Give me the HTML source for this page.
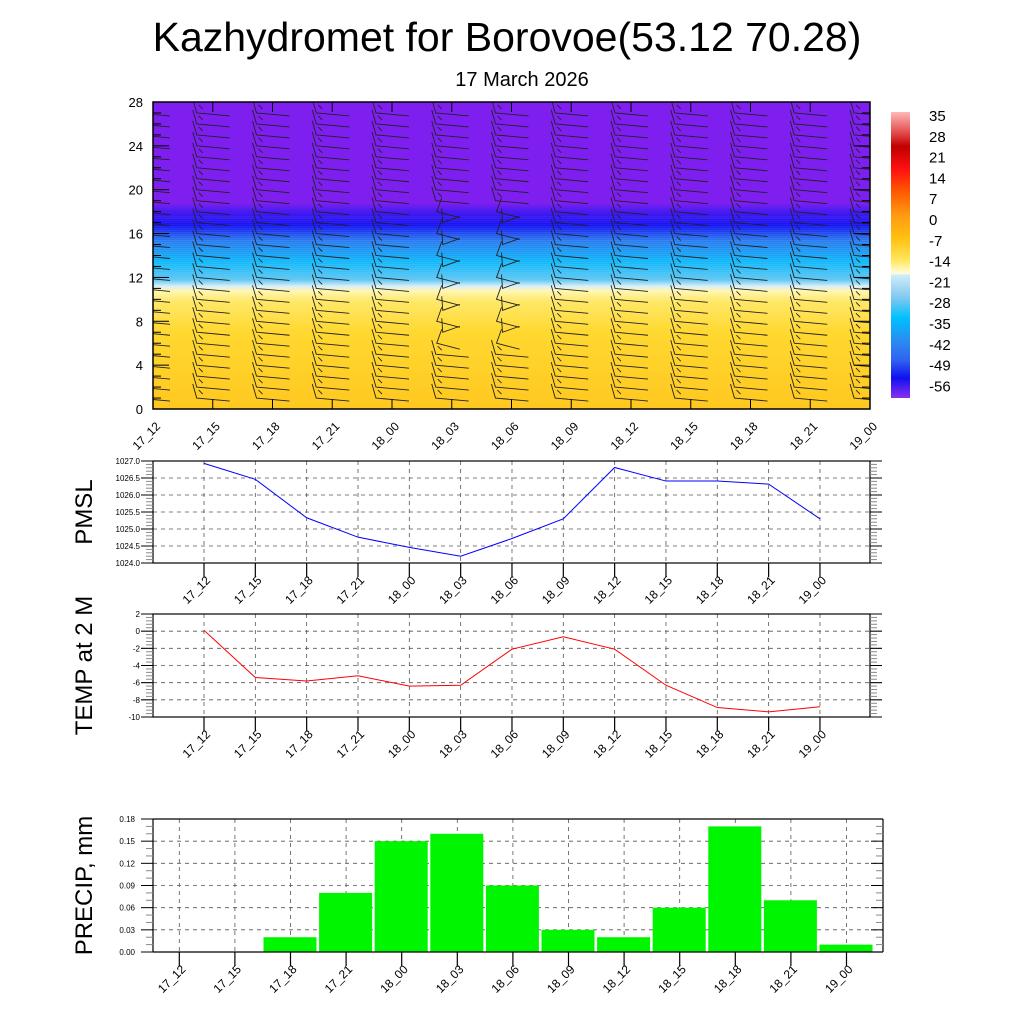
<!DOCTYPE html>
<html><head><meta charset="utf-8"><style>
html,body{margin:0;padding:0;background:#fff;}
svg{display:block;font-family:"Liberation Sans",sans-serif;}
</style></head><body>
<svg id="s" width="1024" height="1024" viewBox="0 0 1024 1024">
<defs>
<clipPath id="tc"><rect x="153" y="102" width="717" height="307"/></clipPath>
<linearGradient id="tg" x1="0" y1="0" x2="0" y2="1">
<stop offset="0" stop-color="#7e1ff0"/>
<stop offset="0.33" stop-color="#7e1ff0"/>
<stop offset="0.355" stop-color="#4a1cf0"/>
<stop offset="0.4" stop-color="#1410f2"/>
<stop offset="0.45" stop-color="#2a7af0"/>
<stop offset="0.52" stop-color="#10b8fa"/>
<stop offset="0.58" stop-color="#60c8f4"/>
<stop offset="0.6" stop-color="#d8eef8"/>
<stop offset="0.615" stop-color="#fff6b0"/>
<stop offset="0.65" stop-color="#ffe868"/>
<stop offset="0.75" stop-color="#ffd830"/>
<stop offset="1" stop-color="#ffc820"/>
</linearGradient>
<linearGradient id="cb" x1="0" y1="0" x2="0" y2="1">
<stop offset="0" stop-color="#ffb8b8"/>
<stop offset="0.08" stop-color="#e04040"/>
<stop offset="0.12" stop-color="#c00000"/>
<stop offset="0.2" stop-color="#ff1010"/>
<stop offset="0.28" stop-color="#ff5a00"/>
<stop offset="0.36" stop-color="#ff9a10"/>
<stop offset="0.44" stop-color="#ffc010"/>
<stop offset="0.52" stop-color="#ffe860"/>
<stop offset="0.565" stop-color="#fffce0"/>
<stop offset="0.57" stop-color="#d0ecf8"/>
<stop offset="0.65" stop-color="#80c8f0"/>
<stop offset="0.72" stop-color="#00c0ff"/>
<stop offset="0.8" stop-color="#2a8cf0"/>
<stop offset="0.87" stop-color="#3060f0"/>
<stop offset="0.93" stop-color="#1010f0"/>
<stop offset="1" stop-color="#8a30f0"/>
</linearGradient>
</defs>
<text x="507" y="51" font-size="41" text-anchor="middle">Kazhydromet for Borovoe(53.12 70.28)</text>
<text x="522" y="86" font-size="20" text-anchor="middle">17 March 2026</text>
<g id="g"></g>
</svg>
<script>
const times=["17_12","17_15","17_18","17_21","18_00","18_03","18_06","18_09","18_12","18_15","18_18","18_21","19_00"];
const pmsl=[1026.93,1026.46,1025.33,1024.76,1024.46,1024.2,1024.72,1025.3,1026.81,1026.41,1026.41,1026.32,1025.3];
const temp=[0.1,-5.4,-5.8,-5.2,-6.4,-6.3,-2.1,-0.65,-2.1,-6.3,-8.9,-9.4,-8.8];
const precip=[0,0,0.02,0.08,0.15,0.16,0.09,0.03,0.02,0.06,0.17,0.07,0.01];
const heightTicks=[0,4,8,12,16,20,24,28];
const pmslTicks=["1024.0","1024.5","1025.0","1025.5","1026.0","1026.5","1027.0"];
const tempTicks=[-10,-8,-6,-4,-2,0,2];
const precipTicks=["0.00","0.03","0.06","0.09","0.12","0.15","0.18"];
const cbLabels=["35","28","21","14","7","0","-7","-14","-21","-28","-35","-42","-49","-56"];
const windLevels=[1,2,3,4,5,6,7,8,9,10,11,12,13,14,15,16,17,18,19,20,21,22,23,24,25,26,27];
const G=document.getElementById('g');
const NS='http://www.w3.org/2000/svg';
function mk(t,a,p){const e=document.createElementNS(NS,t);for(const k in a)e.setAttribute(k,a[k]);(p||G).appendChild(e);return e;}
function xl(p,x,y,txt){const t=mk('text',{x:x,y:y,'font-size':12,'text-anchor':'end',transform:`rotate(-45 ${x} ${y})`},p);t.textContent=txt;return t;}

// ---------- top panel
const T={l:153,r:870,t:102,b:409};
const tx=i=>T.l+(T.r-T.l)*i/12, ty=h=>T.b-(T.b-T.t)*h/28;
const topG=mk('g',{});


mk('rect',{x:T.l,y:T.t,width:T.r-T.l,height:T.b-T.t,fill:'url(#tg)'},topG);
for(let k=0;k<40;k++){mk('line',{x1:T.l,x2:T.r,y1:ty(10.5+k*0.18),y2:ty(10.5+k*0.18),stroke:'#fff',"stroke-opacity":0.12,"stroke-width":0.6},topG);}
const barbs=mk('g',{stroke:'#222','stroke-width':0.9,fill:'none','clip-path':'url(#tc)'},topG);


times.forEach((t,i)=>{const xc=tx(i);windLevels.forEach(h=>{const y=ty(h);
 const wild=(i==5||i==6)&&h>=6&&h<=18;
 if(wild){const s=(h%2?1:-1);mk('polyline',{points:`${xc-10},${y-14} ${xc-12+s*3},${y} ${xc+8},${y-6*s}`},barbs);}
 else{mk('polyline',{points:`${xc-20},${y-14} ${xc-16},${y} ${xc+17},${y+3}`},barbs);
 mk('line',{x1:xc-14,y1:y-8,x2:xc-10,y2:y-4},barbs);}
});});
mk('rect',{x:T.l,y:T.t,width:T.r-T.l,height:T.b-T.t,fill:'none',stroke:'#000','stroke-width':1.5},topG);
for(let h=0;h<=28;h++){const y=ty(h),L=h%4==0?16:8;mk('line',{x1:T.l,x2:T.l+L,y1:y,y2:y,stroke:'#000'},topG);mk('line',{x1:T.r,x2:T.r-L,y1:y,y2:y,stroke:'#000'},topG);}
heightTicks.forEach(h=>{const t=mk('text',{x:T.l-10,y:ty(h)+5,'font-size':13,'text-anchor':'end'},topG);t.textContent=h;});
times.forEach((t,i)=>{const x=tx(i);mk('line',{x1:x,x2:x,y1:T.b,y2:T.b-10,stroke:'#000'},topG);mk('line',{x1:x,x2:x,y1:T.t,y2:T.t+10,stroke:'#000'},topG);xl(topG,x+8,T.b+18,t);});
// colorbar
const cbg=mk('g',{});


mk('rect',{x:891,y:112,width:19,height:286,fill:'url(#cb)'},cbg);
cbLabels.forEach((l,k)=>{const t=mk('text',{x:929,y:121+k*20.8,'font-size':15},cbg);t.textContent=l;});

// ---------- line panels
function linePanel(P,name,vals,ticks,ymin,ymax,color,ylab,fs){
 const g=mk('g',{});
 
 
 const X=i=>204+51.33*i, Y=v=>P.b-(P.b-P.t)*(v-ymin)/(ymax-ymin);
 ticks.forEach(v=>{const y=Y(+v);mk('line',{x1:P.l,x2:P.r,y1:y,y2:y,stroke:'#555','stroke-dasharray':'4,4','stroke-width':0.8},g);});
 times.forEach((t,i)=>{const x=X(i);mk('line',{x1:x,x2:x,y1:P.t,y2:P.b,stroke:'#555','stroke-dasharray':'4,4','stroke-width':0.8},g);
  mk('line',{x1:x,x2:x,y1:P.b,y2:P.b+14,stroke:'#000','stroke-width':1.2},g);xl(g,x+7,P.b+18,t);});
 mk('rect',{x:P.l,y:P.t,width:P.r-P.l,height:P.b-P.t,fill:'none',stroke:'#000','stroke-width':1.2},g);
 const n=30;for(let k=0;k<=n;k++){const y=P.t+(P.b-P.t)*k/n,L=k%5==0?12:7;mk('line',{x1:P.l,x2:P.l-L,y1:y,y2:y,stroke:'#888'},g);mk('line',{x1:P.r,x2:P.r+L,y1:y,y2:y,stroke:'#888'},g);}
 ticks.forEach(v=>{const y=Y(+v);mk('line',{x1:P.l,x2:P.l-12,y1:y,y2:y,stroke:'#000'},g);mk('line',{x1:P.r,x2:P.r+12,y1:y,y2:y,stroke:'#000'},g);const t=mk('text',{x:P.l-13,y:y+3,'font-size':8,'text-anchor':'end'},g);t.textContent=v;});
 const pl=mk('polyline',{points:vals.map((v,i)=>X(i)+','+Y(v)).join(' '),fill:'none',stroke:color,'stroke-width':1},g);
 
 
 const cy=(P.t+P.b)/2;const yl=mk('text',{x:92,y:cy,'font-size':fs,'text-anchor':'middle',transform:`rotate(-90 92 ${cy})`},g);yl.textContent=ylab;
}
linePanel({l:153,r:870,t:461,b:563},'pmsl-panel',pmsl,pmslTicks,1024,1027,'#0000ff','PMSL',24);
linePanel({l:153,r:870,t:614,b:717},'temp-panel',temp,tempTicks,-10,2,'#ff0000','TEMP at 2 M',24);

// ---------- precip panel
(function(){
 const P={l:153,r:870,t:819,b:952};
 const g=mk('g',{});
 
 
 const X=i=>179.3+55.6*i, Y=v=>P.b-(P.b-P.t)*v/0.18;
 precipTicks.forEach(v=>{const y=Y(+v);mk('line',{x1:P.l,x2:883,y1:y,y2:y,stroke:'#555','stroke-dasharray':'4,4','stroke-width':0.8},g);});
 times.forEach((t,i)=>{const x=X(i);mk('line',{x1:x,x2:x,y1:P.t,y2:P.b,stroke:'#555','stroke-dasharray':'4,4','stroke-width':0.8},g);});
 precip.forEach((v,i)=>{if(v<=0)return;const r=mk('rect',{x:X(i)-27,y:Y(v),width:53,height:P.b-Y(v),fill:'#00f500'},g);
  
  });
 mk('line',{x1:P.l,x2:883,y1:P.t,y2:P.t,stroke:'#000','stroke-width':1.2},g);
 mk('line',{x1:P.l,x2:883,y1:P.b,y2:P.b,stroke:'#000','stroke-width':1.2},g);
 mk('line',{x1:P.l,x2:P.l,y1:P.t,y2:P.b,stroke:'#000','stroke-width':1.2},g);
 mk('line',{x1:883,x2:883,y1:P.t,y2:P.b,stroke:'#000','stroke-width':1.2},g);
 for(let k=0;k<=18;k++){const y=P.t+(P.b-P.t)*k/18,L=k%3==0?12:7;mk('line',{x1:P.l,x2:P.l-L,y1:y,y2:y,stroke:k%3==0?'#000':'#888'},g);mk('line',{x1:883,x2:883-L,y1:y,y2:y,stroke:k%3==0?'#000':'#888'},g);}
 precipTicks.forEach(v=>{const t=mk('text',{x:P.l-18,y:Y(+v)+3,'font-size':8,'text-anchor':'end'},g);t.textContent=v;});
 times.forEach((t,i)=>{const x=X(i);mk('line',{x1:x,x2:x,y1:P.b,y2:P.b+14,stroke:'#000','stroke-width':1.2},g);xl(g,x+7,P.b+18,t);});
 const cy=(P.t+P.b)/2;const yl=mk('text',{x:92,y:cy,'font-size':24,'text-anchor':'middle',transform:`rotate(-90 92 ${cy})`},g);yl.textContent='PRECIP, mm';
})();
</script>
</body></html>
